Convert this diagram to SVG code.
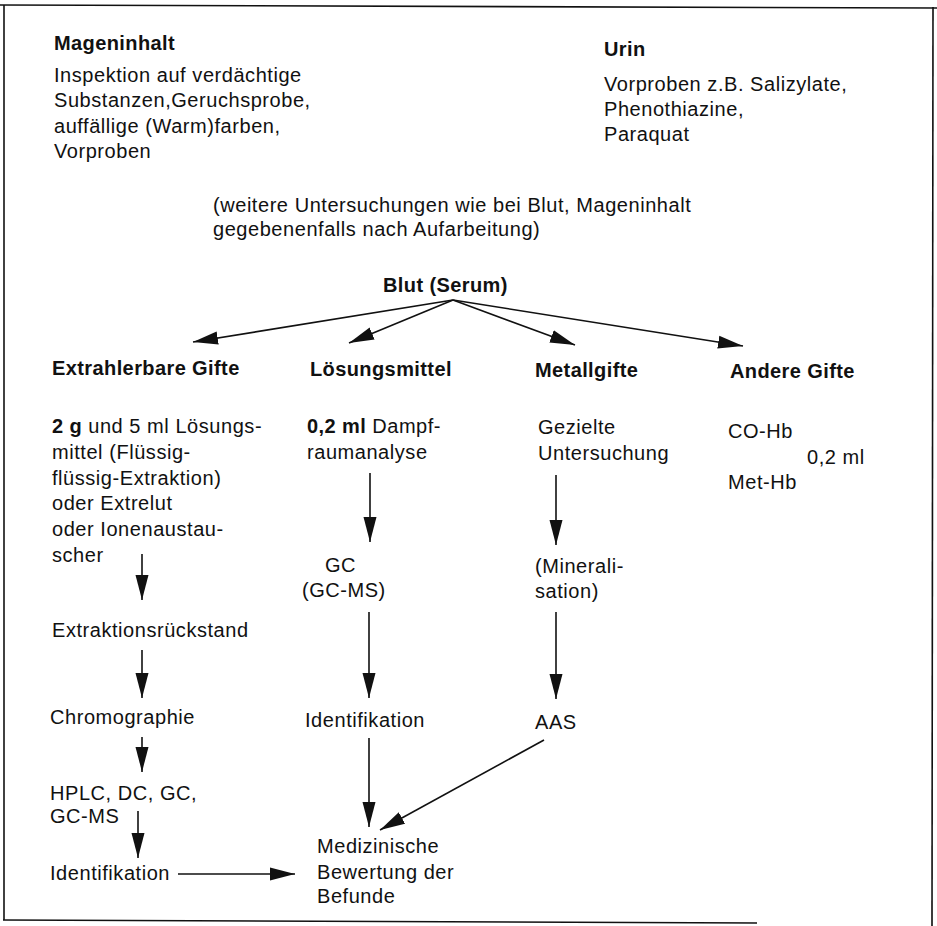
<svg xmlns="http://www.w3.org/2000/svg" width="937" height="926" viewBox="0 0 937 926">
<style>
text{font-family:"Liberation Sans",Arial,Helvetica,sans-serif;font-size:20px;fill:#111;letter-spacing:0.55px}
.b{font-weight:bold;letter-spacing:0.4px}
.ln{stroke:#111;stroke-width:1.6;fill:none}
.frame{stroke:#111;stroke-width:1.6;fill:none}
</style>
<defs>
<marker id="ah" markerUnits="userSpaceOnUse" markerWidth="27" markerHeight="14" viewBox="0 -7 27 14" refX="25" refY="0" orient="auto">
<path d="M0,-6.5 L25,0 L0,6.5 Z" fill="#111"/>
</marker>
</defs>
<rect width="937" height="926" fill="#fff"/>
<g id="frame" class="frame">
<line x1="0" y1="5" x2="937" y2="8"/>
<line x1="4" y1="5" x2="4" y2="920"/>
<line x1="3" y1="920" x2="757" y2="923"/>
<line x1="933" y1="7" x2="932" y2="926"/>
</g>
<g id="mageninhalt">
<text class="b" x="54" y="50">Mageninhalt</text>
<text x="54" y="82">Inspektion auf verdächtige</text>
<text x="54" y="107">Substanzen,Geruchsprobe,</text>
<text x="54" y="133">auffällige (Warm)farben,</text>
<text x="54" y="158">Vorproben</text>
</g>
<g id="urin">
<text class="b" x="604" y="56">Urin</text>
<text x="604" y="91">Vorproben z.B. Salizylate,</text>
<text x="604" y="116">Phenothiazine,</text>
<text x="604" y="141">Paraquat</text>
</g>
<g id="weitere">
<text x="213" y="212">(weitere Untersuchungen wie bei Blut, Mageninhalt</text>
<text x="213" y="236">gegebenenfalls nach Aufarbeitung)</text>
</g>
<g id="blut"><text class="b" x="383" y="292">Blut (Serum)</text></g>
<g id="extrahierbare">
<text class="b" x="52" y="375">Extrahlerbare Gifte</text>
<text x="52" y="433"><tspan class="b">2 g</tspan> und 5 ml Lösungs-</text>
<text x="52" y="459">mittel (Flüssig-</text>
<text x="52" y="485">flüssig-Extraktion)</text>
<text x="52" y="510">oder Extrelut</text>
<text x="52" y="536">oder Ionenaustau-</text>
<text x="52" y="562">scher</text>
</g>
<g id="rueckstand"><text x="52" y="637">Extraktionsrückstand</text></g>
<g id="chromographie"><text x="50" y="724">Chromographie</text></g>
<g id="hplc">
<text x="50" y="800">HPLC, DC, GC,</text>
<text x="50" y="823">GC-MS</text>
</g>
<g id="ident1"><text x="50" y="880">Identifikation</text></g>
<g id="loesungsmittel">
<text class="b" x="310" y="376">Lösungsmittel</text>
<text x="307" y="433"><tspan class="b">0,2 ml</tspan> Dampf-</text>
<text x="307" y="459">raumanalyse</text>
</g>
<g id="gc">
<text x="325" y="572">GC</text>
<text x="302" y="597">(GC-MS)</text>
</g>
<g id="ident2"><text x="305" y="727">Identifikation</text></g>
<g id="metallgifte">
<text class="b" x="535" y="377">Metallgifte</text>
<text x="538" y="434">Gezielte</text>
<text x="538" y="460">Untersuchung</text>
</g>
<g id="mineralisation">
<text x="535" y="573">(Minerali-</text>
<text x="535" y="598">sation)</text>
</g>
<g id="aas"><text x="535" y="729">AAS</text></g>
<g id="andere">
<text class="b" x="730" y="378">Andere Gifte</text>
<text x="728" y="438">CO-Hb</text>
<text x="807" y="464">0,2 ml</text>
<text x="728" y="489">Met-Hb</text>
</g>
<g id="bewertung">
<text x="317" y="853">Medizinische</text>
<text x="317" y="879">Bewertung der</text>
<text x="317" y="903">Befunde</text>
</g>
<g id="connectors" class="ln" marker-end="url(#ah)">
<line x1="453" y1="300" x2="193" y2="342"/>
<line x1="453" y1="300" x2="349" y2="343"/>
<line x1="453" y1="300" x2="575" y2="345"/>
<line x1="453" y1="300" x2="743" y2="346"/>
<line x1="142" y1="554" x2="142" y2="600"/>
<line x1="142" y1="650" x2="142" y2="698"/>
<line x1="142" y1="737" x2="142" y2="772"/>
<line x1="138" y1="811" x2="138" y2="858"/>
<line x1="178" y1="874" x2="295" y2="874"/>
<line x1="370" y1="473" x2="370" y2="542"/>
<line x1="369" y1="612" x2="369" y2="698"/>
<line x1="369" y1="738" x2="369" y2="827"/>
<line x1="556" y1="475" x2="556" y2="545"/>
<line x1="556" y1="612" x2="556" y2="699"/>
<line x1="544" y1="740" x2="380" y2="830"/>
</g>
</svg>
